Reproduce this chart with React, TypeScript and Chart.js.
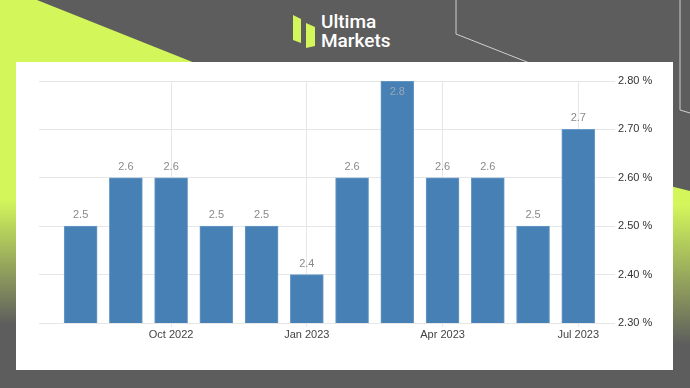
import React, { useEffect, useRef } from "react";
import { Chart, registerables } from "chart.js";

Chart.register(...registerables);

const months = ["Aug 2022", "Sep 2022", "Oct 2022", "Nov 2022", "Dec 2022", "Jan 2023", "Feb 2023", "Mar 2023", "Apr 2023", "May 2023", "Jun 2023", "Jul 2023"];
const values = [2.5, 2.6, 2.6, 2.5, 2.5, 2.4, 2.6, 2.8, 2.6, 2.6, 2.5, 2.7];
const tickMonths = ["Oct 2022", "Jan 2023", "Apr 2023", "Jul 2023"];
const yTicks = [2.3, 2.4, 2.5, 2.6, 2.7, 2.8];

const LIME = "#d3f65b";
const GRAY = "#5d5d5d";

const valueLabels = {
  id: "valueLabels",
  afterDatasetsDraw(chart: any) {
    const ctx = chart.ctx;
    const meta = chart.getDatasetMeta(0);
    const area = chart.chartArea;
    ctx.save();
    ctx.font = "11px 'Liberation Sans', Arial, sans-serif";
    ctx.textAlign = "center";
    ctx.textBaseline = "middle";
    meta.data.forEach((bar: any, i: number) => {
      const txt = String(values[i]);
      let y = bar.y - 11;
      if (y < area.top + 4) {
        ctx.fillStyle = "#9aa6b5";
        y = bar.y + 11;
      } else {
        ctx.fillStyle = "#8a8a8a";
      }
      ctx.fillText(txt, bar.x, y);
    });
    ctx.restore();
  },
};

function ChartPanel() {
  const ref = useRef<HTMLCanvasElement | null>(null);
  useEffect(() => {
    if (!ref.current) return;
    const chart = new Chart(ref.current, {
      type: "bar",
      data: {
        datasets: [
          {
            data: values.map((v, i) => ({ x: i, y: v })),
            backgroundColor: "#4680b4",
            borderColor: "#6a9bc8",
            borderWidth: 1,
            barThickness: 33,
          },
        ],
      },
      options: {
        animation: false,
        responsive: false,
        maintainAspectRatio: false,
        layout: { padding: { left: 23, top: 19, right: 0, bottom: 0 } },
        plugins: { legend: { display: false }, tooltip: { enabled: false } },
        scales: {
          x: {
            type: "linear",
            min: -0.92,
            max: 11.48,
            offset: false,
            afterBuildTicks: (scale: any) => {
              scale.ticks = tickMonths.map((m) => ({ value: months.indexOf(m) }));
            },
            afterFit: (scale: any) => {
              scale.height = 47;
            },
            ticks: {
              callback: (v: any) => months[Number(v)] ?? "",
              color: "#444",
              font: { family: "'Liberation Sans', Arial, sans-serif", size: 11 },
              padding: 1,
              maxRotation: 0,
              autoSkip: false,
            },
            grid: { color: "#e6e6e6", tickLength: 4, drawOnChartArea: true, offset: false },
            border: { display: false },
          },
          y: {
            position: "right",
            min: 2.3,
            max: 2.8,
            afterBuildTicks: (scale: any) => {
              scale.ticks = yTicks.map((v) => ({ value: v }));
            },
            afterFit: (scale: any) => {
              scale.width = 73;
            },
            ticks: {
              callback: (v: any) => Number(v).toFixed(2) + " %",
              color: "#333",
              font: { family: "'Liberation Sans', Arial, sans-serif", size: 11 },
              padding: 3,
            },
            grid: { color: "#e6e6e6", tickLength: 15 },
            border: { display: false },
          },
        },
      },
      plugins: [valueLabels],
    } as any);
    return () => chart.destroy();
  }, []);
  return <canvas ref={ref} width={657} height={308} style={{ display: "block", width: 657, height: 308 }} />;
}

export default function App() {
  return (
    <div style={{ position: "absolute", left: 0, top: 0, width: 690, height: 388, overflow: "hidden", background: GRAY }}>
      <svg width={690} height={388} style={{ position: "absolute", left: 0, top: 0 }}>
        <defs>
          <linearGradient id="gl" x1="0" y1="0" x2="0" y2="388" gradientUnits="userSpaceOnUse">
            <stop offset={200 / 388} stopColor={LIME} />
            <stop offset={325 / 388} stopColor={GRAY} />
          </linearGradient>
          <linearGradient id="gr" x1="0" y1="0" x2="0" y2="388" gradientUnits="userSpaceOnUse">
            <stop offset={205 / 388} stopColor={LIME} />
            <stop offset={345 / 388} stopColor={GRAY} />
          </linearGradient>
        </defs>
        <polygon points="0,0 37,0 200,65 16,65 16,388 0,388" fill="url(#gl)" />
        <polygon points="670,186 690,191 690,388 670,388" fill="url(#gr)" />
        <polyline points="456,0 456,34 560,75" fill="none" stroke="#cfcfcf" strokeWidth={1} />
        <polyline points="680,0 680,110 690,113" fill="none" stroke="#cfcfcf" strokeWidth={1} />
        <polygon points="293,15 301,19 301,43 293,40" fill={LIME} />
        <polygon points="306,23 315,27 315,46 306,48" fill={LIME} />
      </svg>
      <div
        style={{
          position: "absolute",
          left: 321,
          top: 12,
          color: "#ffffff",
          fontFamily: "Roboto, 'Liberation Sans', sans-serif",
          fontWeight: 500,
          fontSize: 19,
          lineHeight: "19px",
        }}
      >
        <div>Ultima</div>
        <div>Markets</div>
      </div>
      <div style={{ position: "absolute", left: 16, top: 62, width: 657, height: 308, background: "#fff" }}>
        <ChartPanel />
      </div>
    </div>
  );
}
